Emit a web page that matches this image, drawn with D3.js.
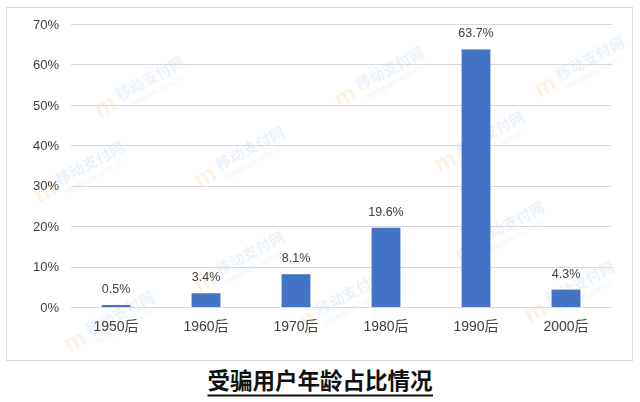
<!DOCTYPE html>
<html><head><meta charset="utf-8">
<script src="https://cdn.jsdelivr.net/npm/d3@7"></script>
<style>html,body{margin:0;padding:0;background:#fff;}svg{display:block;}</style>
</head><body>
<svg id="c" width="640" height="402"></svg>
<script>
const categories = ["1950后","1960后","1970后","1980后","1990后","2000后"];
const values = [0.5, 3.4, 8.1, 19.6, 63.7, 4.3];
const yTicks = [0,10,20,30,40,50,60,70];
const title = "受骗用户年龄占比情况";

const svg = d3.select("#c");
const font = "'Liberation Sans', Arial, 'Noto Sans CJK SC', sans-serif";

// watermarks (faint)
const wm = svg.append("g").attr("opacity", 0.14);
const wmPos = [[130,95],[370,85],[570,75],[230,165],[470,150],[70,180],[230,270],[490,240],[100,330],[330,310],[560,300]];
wmPos.forEach(([x,y]) => {
  const g = wm.append("g").attr("transform", `translate(${x},${y}) rotate(-28)`);
  g.append("text").attr("x",-38).attr("y",6).attr("font-family",font).attr("font-weight","bold")
   .attr("font-size",24).attr("fill","#f5a04a").text("m");
  g.append("text").attr("x",-12).attr("y",0).attr("font-family","'Noto Sans CJK SC'").attr("font-weight","bold")
   .attr("font-size",15).attr("fill","#6fa8dc").text("移动支付网");
  g.append("text").attr("x",-10).attr("y",11).attr("font-family",font)
   .attr("font-size",8).attr("fill","#6fa8dc").text("mpaypass.com.cn");
});

// border
svg.append("rect").attr("x",6.5).attr("y",7.5).attr("width",626).attr("height",353)
  .attr("fill","none").attr("stroke","#d9d9d9").attr("stroke-width",1);

const x = d3.scaleBand().domain(categories).range([71, 611]).paddingInner(0.68).paddingOuter(0.34);
const y = d3.scaleLinear().domain([0,70]).range([307, 24]);

// gridlines
svg.append("g").selectAll("line").data(yTicks).join("line")
  .attr("x1",71).attr("x2",612).attr("y1",d=>Math.round(y(d))+0.5).attr("y2",d=>Math.round(y(d))+0.5)
  .attr("stroke","#d9d9d9").attr("stroke-width",1);

// y axis labels
const yAxis = d3.axisLeft(y).tickValues(yTicks).tickFormat(d=>d+"%").tickSize(0).tickPadding(0);
const ya = svg.append("g").attr("transform","translate(59,0)").call(yAxis);
ya.select(".domain").remove();
ya.selectAll("text").attr("font-family",font).attr("font-size",13).attr("fill","#404040");

// bars
svg.append("g").selectAll("rect").data(values).join("rect")
  .attr("x",(d,i)=>x(categories[i])).attr("width",x.bandwidth())
  .attr("y",d=>y(d)).attr("height",d=>y(0)-y(d)).attr("fill","#4472c4");

// data labels
svg.append("g").selectAll("text").data(values).join("text")
  .attr("x",(d,i)=>x(categories[i])+x.bandwidth()/2).attr("y",d=>y(d)-12)
  .attr("text-anchor","middle").attr("font-family",font).attr("font-size",12.5).attr("fill","#404040")
  .text(d=>d.toFixed(1)+"%");

// x axis
const xAxis = d3.axisBottom(x).tickSize(0).tickPadding(0);
const xa = svg.append("g").attr("transform","translate(0,321)").call(xAxis);
xa.select(".domain").remove();
xa.selectAll("text").attr("font-family",font).attr("font-size",14).attr("fill","#404040").attr("dy","0.71em");

// title
const t = svg.append("text").attr("x",320).attr("y",389).attr("text-anchor","middle")
  .attr("font-family","'Noto Sans CJK SC', sans-serif").attr("font-weight","bold")
  .attr("font-size",22.5).attr("fill","#111").text(title);
const bb = t.node().getBBox();
svg.append("line").attr("x1",bb.x).attr("x2",bb.x+bb.width).attr("y1",395.5).attr("y2",395.5)
  .attr("stroke","#111").attr("stroke-width",2);
</script>
</body></html>
